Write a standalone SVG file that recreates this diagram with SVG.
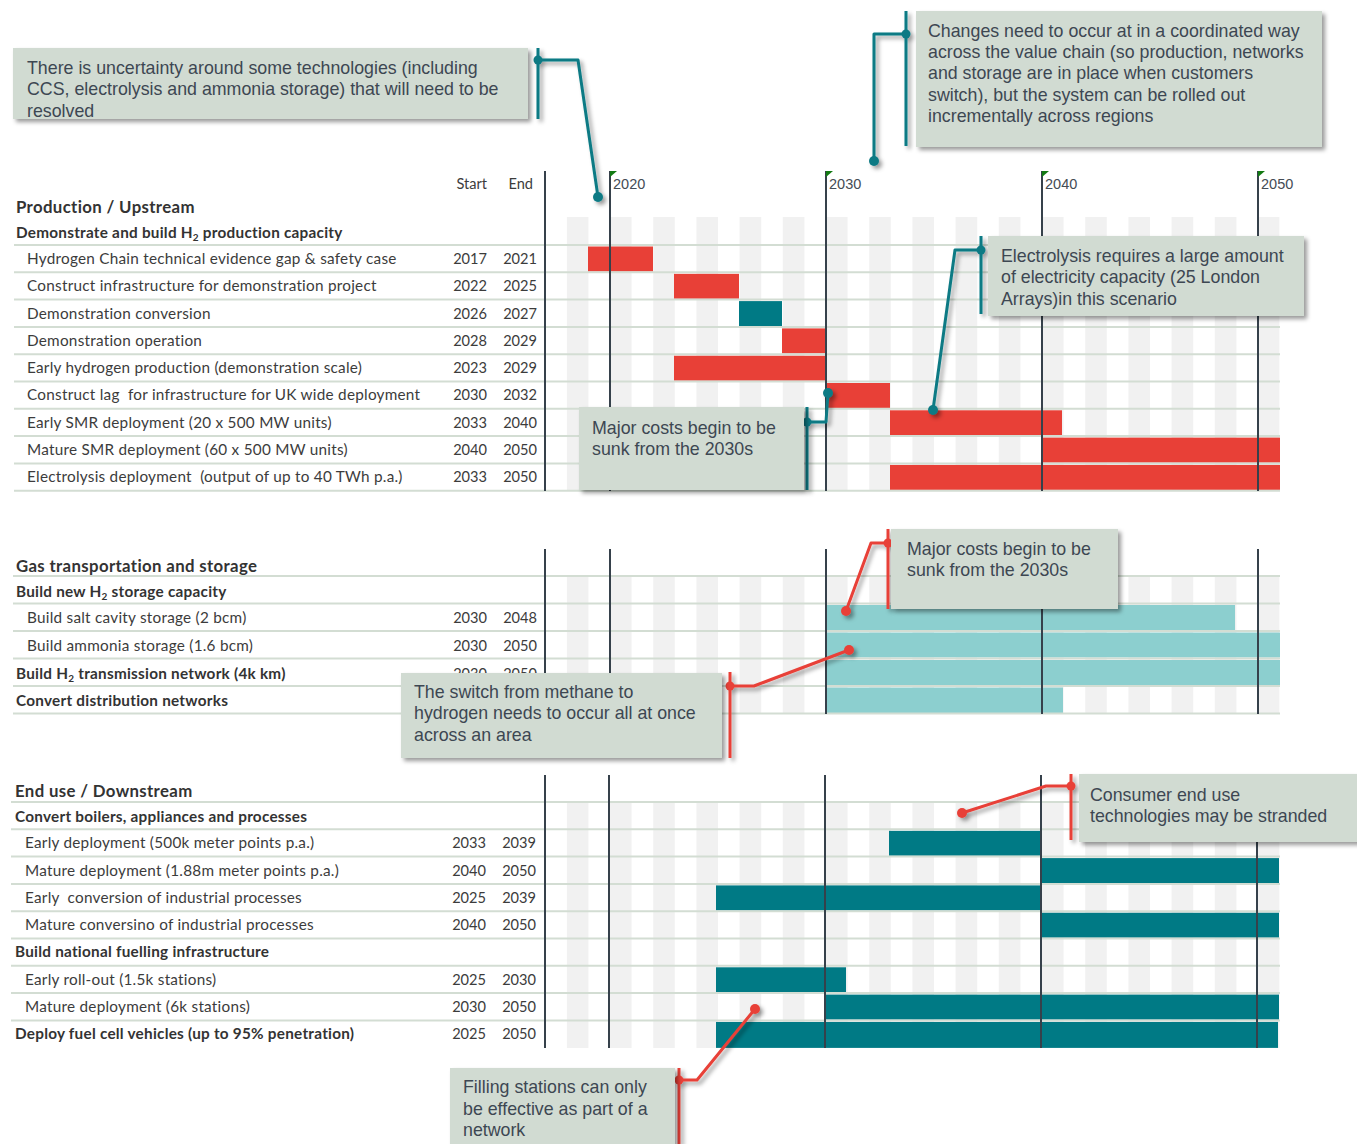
<svg xmlns="http://www.w3.org/2000/svg" width="1357" height="1144" viewBox="0 0 1357 1144">
  <defs>
    <style>
      .lbl { font-family: Lato, "Open Sans", sans-serif; font-size: 15.3px; letter-spacing: 0.25px; fill: #3c3c3c; }
      .hdr { font-family: Lato, "Open Sans", sans-serif; font-size: 15.3px; letter-spacing: 0.25px; font-weight: bold; fill: #333333; }
      .sec { font-family: Lato, "Open Sans", sans-serif; font-size: 16.8px; letter-spacing: 0.35px; font-weight: bold; fill: #333333; }
      .num { font-family: Lato, "Open Sans", sans-serif; font-size: 14.6px; fill: #3c3c3c; text-anchor: end; }
      .yr { font-family: "Liberation Sans", Arial, sans-serif; font-size: 14.5px; fill: #444c55; }
      .note { font-family: "Liberation Sans", Arial, sans-serif; font-size: 17.8px; fill: #3d4752; }
      .grid { stroke: #d3ddd3; stroke-width: 2; }
      .axis { stroke: #36414b; stroke-width: 2; }
      .box { fill: #d1dbd2; }
      .red { fill: #e84037; }
      .teal { fill: #007a85; }
      .aqua { fill: #8ccfcf; }
      .cT { stroke: #0b7a84; stroke-width: 3; fill: none; stroke-linejoin: round; }
      .cR { stroke: #e84037; stroke-width: 3; fill: none; stroke-linejoin: round; }
      .dT { fill: #0b7a84; }
      .dR { fill: #e84037; }
      .flag { fill: #137a13; }
    </style>
    <pattern id="stripes" patternUnits="userSpaceOnUse" x="566.8" y="0" width="43.2" height="10">
      <rect x="0" y="0" width="21.6" height="10" fill="#f1f1f1"/>
    </pattern>
    <filter id="shadow" x="-10%" y="-10%" width="130%" height="140%">
      <feDropShadow dx="3" dy="3" stdDeviation="2" flood-color="#000" flood-opacity="0.4"/>
    </filter>
  </defs>
  <rect width="1357" height="1144" fill="#ffffff"/>

  <!-- year stripes -->
  <g id="stripes-bg">
    <rect x="566.8" y="217" width="712.8" height="274" fill="url(#stripes)"/>
    <rect x="566.8" y="577" width="712.8" height="137" fill="url(#stripes)"/>
    <rect x="566.8" y="803" width="712.8" height="245" fill="url(#stripes)"/>
  </g>

  <!-- bars -->
  <g id="bars">
    <rect class="red" x="588" y="246.5" width="65" height="25"/>
    <rect class="red" x="674" y="273.8" width="65" height="25"/>
    <rect class="teal" x="739" y="301.1" width="43" height="25"/>
    <rect class="red" x="782" y="328.4" width="44" height="25"/>
    <rect class="red" x="674" y="355.7" width="152" height="25"/>
    <rect class="red" x="826" y="383" width="64" height="25"/>
    <rect class="red" x="890" y="410.3" width="172" height="25"/>
    <rect class="red" x="1042" y="437.6" width="238" height="25"/>
    <rect class="red" x="890" y="464.9" width="390" height="25"/>

    <rect class="aqua" x="826" y="605" width="409" height="25"/>
    <rect class="aqua" x="826" y="632.5" width="454" height="25"/>
    <rect class="aqua" x="826" y="660" width="454" height="25"/>
    <rect class="aqua" x="826" y="687.5" width="237" height="26"/>

    <rect class="teal" x="889" y="830.8" width="152" height="25"/>
    <rect class="teal" x="1041" y="858.1" width="238" height="25"/>
    <rect class="teal" x="716" y="885.4" width="325" height="25"/>
    <rect class="teal" x="1041" y="912.7" width="238" height="25"/>
    <rect class="teal" x="716" y="967.3" width="130" height="25"/>
    <rect class="teal" x="825" y="994.6" width="454" height="25"/>
    <rect class="teal" x="716" y="1021.9" width="562" height="26"/>
  </g>

  <!-- row separators -->
  <g id="grid">
    <line class="grid" x1="14" y1="245" x2="1280" y2="245"/>
    <line class="grid" x1="14" y1="272.3" x2="1280" y2="272.3"/>
    <line class="grid" x1="14" y1="299.6" x2="1280" y2="299.6"/>
    <line class="grid" x1="14" y1="326.9" x2="1280" y2="326.9"/>
    <line class="grid" x1="14" y1="354.2" x2="1280" y2="354.2"/>
    <line class="grid" x1="14" y1="381.5" x2="1280" y2="381.5"/>
    <line class="grid" x1="14" y1="408.8" x2="1280" y2="408.8"/>
    <line class="grid" x1="14" y1="436.1" x2="1280" y2="436.1"/>
    <line class="grid" x1="14" y1="463.4" x2="1280" y2="463.4"/>
    <line class="grid" x1="14" y1="490.7" x2="1280" y2="490.7"/>

    <line class="grid" x1="13" y1="576" x2="1280" y2="576"/>
    <line class="grid" x1="13" y1="603.5" x2="1280" y2="603.5"/>
    <line class="grid" x1="13" y1="631" x2="1280" y2="631"/>
    <line class="grid" x1="13" y1="658.5" x2="1280" y2="658.5"/>
    <line class="grid" x1="13" y1="686" x2="1280" y2="686"/>
    <line class="grid" x1="13" y1="713.5" x2="1280" y2="713.5"/>

    <line class="grid" x1="11" y1="802" x2="1280" y2="802"/>
    <line class="grid" x1="11" y1="829.3" x2="1280" y2="829.3"/>
    <line class="grid" x1="11" y1="856.6" x2="1280" y2="856.6"/>
    <line class="grid" x1="11" y1="883.9" x2="1280" y2="883.9"/>
    <line class="grid" x1="11" y1="911.2" x2="1280" y2="911.2"/>
    <line class="grid" x1="11" y1="938.5" x2="1280" y2="938.5"/>
    <line class="grid" x1="11" y1="965.8" x2="1280" y2="965.8"/>
    <line class="grid" x1="11" y1="993.1" x2="1280" y2="993.1"/>
    <line class="grid" x1="11" y1="1020.4" x2="1280" y2="1020.4"/>
  </g>

  <!-- decade axis lines -->
  <g id="axes">
    <line class="axis" x1="545" y1="171" x2="545" y2="491"/>
    <line class="axis" x1="610" y1="171" x2="610" y2="491"/>
    <line class="axis" x1="826" y1="171" x2="826" y2="491"/>
    <line class="axis" x1="1042" y1="171" x2="1042" y2="491"/>
    <line class="axis" x1="1258" y1="171" x2="1258" y2="491"/>

    <line class="axis" x1="545" y1="549" x2="545" y2="714"/>
    <line class="axis" x1="610" y1="549" x2="610" y2="714"/>
    <line class="axis" x1="826" y1="549" x2="826" y2="714"/>
    <line class="axis" x1="1042" y1="549" x2="1042" y2="714"/>
    <line class="axis" x1="1258" y1="549" x2="1258" y2="714"/>

    <line class="axis" x1="545" y1="775" x2="545" y2="1048"/>
    <line class="axis" x1="609" y1="775" x2="609" y2="1048"/>
    <line class="axis" x1="825" y1="775" x2="825" y2="1048"/>
    <line class="axis" x1="1041" y1="775" x2="1041" y2="1048"/>
    <line class="axis" x1="1257" y1="775" x2="1257" y2="1048"/>

    <polygon class="flag" points="610,171 617,171 610,177"/>
    <polygon class="flag" points="826,171 833,171 826,177"/>
    <polygon class="flag" points="1042,171 1049,171 1042,177"/>
    <polygon class="flag" points="1258,171 1265,171 1258,177"/>
    <text class="yr" x="613" y="189">2020</text>
    <text class="yr" x="829" y="189">2030</text>
    <text class="yr" x="1045" y="189">2040</text>
    <text class="yr" x="1261" y="189">2050</text>
  </g>

  <!-- row labels -->
  <g id="labels">
    <text class="num" x="487" y="189">Start</text>
    <text class="num" x="533" y="189">End</text>

    <text class="sec" x="16" y="213">Production / Upstream</text>
    <text class="hdr" x="16" y="238">Demonstrate and build H<tspan font-size="10" dy="3">2</tspan><tspan dy="-3"> production capacity</tspan></text>
    <text class="lbl" x="27" y="264">Hydrogen Chain technical evidence gap &amp; safety case</text>
    <text class="num" x="487" y="264">2017</text><text class="num" x="537" y="264">2021</text>
    <text class="lbl" x="27" y="291">Construct infrastructure for demonstration project</text>
    <text class="num" x="487" y="291">2022</text><text class="num" x="537" y="291">2025</text>
    <text class="lbl" x="27" y="319">Demonstration conversion</text>
    <text class="num" x="487" y="319">2026</text><text class="num" x="537" y="319">2027</text>
    <text class="lbl" x="27" y="346">Demonstration operation</text>
    <text class="num" x="487" y="346">2028</text><text class="num" x="537" y="346">2029</text>
    <text class="lbl" x="27" y="373">Early hydrogen production (demonstration scale)</text>
    <text class="num" x="487" y="373">2023</text><text class="num" x="537" y="373">2029</text>
    <text class="lbl" x="27" y="400" xml:space="preserve">Construct lag  for infrastructure for UK wide deployment</text>
    <text class="num" x="487" y="400">2030</text><text class="num" x="537" y="400">2032</text>
    <text class="lbl" x="27" y="428">Early SMR deployment (20 x 500 MW units)</text>
    <text class="num" x="487" y="428">2033</text><text class="num" x="537" y="428">2040</text>
    <text class="lbl" x="27" y="455">Mature SMR deployment (60 x 500 MW units)</text>
    <text class="num" x="487" y="455">2040</text><text class="num" x="537" y="455">2050</text>
    <text class="lbl" x="27" y="482" xml:space="preserve">Electrolysis deployment  (output of up to 40 TWh p.a.)</text>
    <text class="num" x="487" y="482">2033</text><text class="num" x="537" y="482">2050</text>

    <text class="sec" x="16" y="572">Gas transportation and storage</text>
    <text class="hdr" x="16" y="597">Build new H<tspan font-size="10" dy="3">2</tspan><tspan dy="-3"> storage capacity</tspan></text>
    <text class="lbl" x="27" y="623">Build salt cavity storage (2 bcm)</text>
    <text class="num" x="487" y="623">2030</text><text class="num" x="537" y="623">2048</text>
    <text class="lbl" x="27" y="651">Build ammonia storage (1.6 bcm)</text>
    <text class="num" x="487" y="651">2030</text><text class="num" x="537" y="651">2050</text>
    <text class="hdr" x="16" y="679">Build H<tspan font-size="10" dy="3">2</tspan><tspan dy="-3"> transmission network (4k km)</tspan></text>
    <text class="num" x="487" y="679">2030</text><text class="num" x="537" y="679">2050</text>
    <text class="hdr" x="16" y="706">Convert distribution networks</text>

    <text class="sec" x="15" y="797">End use / Downstream</text>
    <text class="hdr" x="15" y="822">Convert boilers, appliances and processes</text>
    <text class="lbl" x="25" y="848">Early deployment (500k meter points p.a.)</text>
    <text class="num" x="486" y="848">2033</text><text class="num" x="536" y="848">2039</text>
    <text class="lbl" x="25" y="876">Mature deployment (1.88m meter points p.a.)</text>
    <text class="num" x="486" y="876">2040</text><text class="num" x="536" y="876">2050</text>
    <text class="lbl" x="25" y="903" xml:space="preserve">Early  conversion of industrial processes</text>
    <text class="num" x="486" y="903">2025</text><text class="num" x="536" y="903">2039</text>
    <text class="lbl" x="25" y="930">Mature conversino of industrial processes</text>
    <text class="num" x="486" y="930">2040</text><text class="num" x="536" y="930">2050</text>
    <text class="hdr" x="15" y="957">Build national fuelling infrastructure</text>
    <text class="lbl" x="25" y="985">Early roll-out (1.5k stations)</text>
    <text class="num" x="486" y="985">2025</text><text class="num" x="536" y="985">2030</text>
    <text class="lbl" x="25" y="1012">Mature deployment (6k stations)</text>
    <text class="num" x="486" y="1012">2030</text><text class="num" x="536" y="1012">2050</text>
    <text class="hdr" x="15" y="1039">Deploy fuel cell vehicles (up to 95% penetration)</text>
    <text class="num" x="486" y="1039">2025</text><text class="num" x="536" y="1039">2050</text>
  </g>

  <!-- callout connectors -->
  <g id="connectors" filter="url(#shadow)">
    <line class="cT" x1="538" y1="48" x2="538" y2="119"/>
    <polyline class="cT" points="538,60 578,60 598,197"/>
    <circle class="dT" cx="538" cy="60" r="4.5"/><circle class="dT" cx="598" cy="197" r="5"/>

    <line class="cT" x1="906" y1="11" x2="906" y2="146"/>
    <polyline class="cT" points="906,34 874,34 874,161"/>
    <circle class="dT" cx="906" cy="34" r="4.5"/><circle class="dT" cx="874" cy="161" r="5"/>

    <line class="cT" x1="981" y1="236" x2="981" y2="314"/>
    <polyline class="cT" points="981,250 955,250 933,410"/>
    <circle class="dT" cx="981" cy="250" r="4.5"/><circle class="dT" cx="933" cy="410" r="5"/>

    <line class="cT" x1="807" y1="407" x2="807" y2="490"/>
    <polyline class="cT" points="807,422 826,422 828,393"/>
    <circle class="dT" cx="807" cy="422" r="4.5"/><circle class="dT" cx="828" cy="393" r="5"/>

    <line class="cR" x1="888" y1="529" x2="888" y2="609"/>
    <polyline class="cR" points="888,543 871,543 846,611"/>
    <circle class="dR" cx="888" cy="543" r="4.5"/><circle class="dR" cx="846" cy="611" r="5"/>

    <line class="cR" x1="730" y1="672" x2="730" y2="758"/>
    <polyline class="cR" points="730,686 754,686 849,650"/>
    <circle class="dR" cx="730" cy="686" r="4.5"/><circle class="dR" cx="849" cy="650" r="5"/>

    <line class="cR" x1="1071" y1="774" x2="1071" y2="840"/>
    <polyline class="cR" points="1071,786 1046,786 962,813"/>
    <circle class="dR" cx="1071" cy="786" r="4.5"/><circle class="dR" cx="962" cy="813" r="5"/>

    <line class="cR" x1="679" y1="1068" x2="679" y2="1144"/>
    <polyline class="cR" points="679,1080 697,1080 755,1009"/>
    <circle class="dR" cx="679" cy="1080" r="4.5"/><circle class="dR" cx="755" cy="1009" r="5"/>
  </g>

  <!-- callout notes -->
  <g id="note-uncertainty">
    <rect class="box" x="13" y="48" width="515" height="71" filter="url(#shadow)"/>
    <text class="note" x="27" y="74">There is uncertainty around some technologies (including</text>
    <text class="note" x="27" y="95">CCS, electrolysis and ammonia storage) that will need to be</text>
    <text class="note" x="27" y="117">resolved</text>
  </g>
  <g id="note-coordination">
    <rect class="box" x="916" y="11" width="406" height="136" filter="url(#shadow)"/>
    <text class="note" x="928" y="37">Changes need to occur at in a coordinated way</text>
    <text class="note" x="928" y="58">across the value chain (so production, networks</text>
    <text class="note" x="928" y="79">and storage are in place when customers</text>
    <text class="note" x="928" y="101">switch), but the system can be rolled out</text>
    <text class="note" x="928" y="122">incrementally across regions</text>
  </g>
  <g id="note-electrolysis">
    <rect class="box" x="988" y="236" width="316" height="80" filter="url(#shadow)"/>
    <text class="note" x="1001" y="262">Electrolysis requires a large amount</text>
    <text class="note" x="1001" y="283">of electricity capacity (25 London</text>
    <text class="note" x="1001" y="305">Arrays)in this scenario</text>
  </g>
  <g id="note-costs-production">
    <rect class="box" x="579" y="407" width="225" height="83" filter="url(#shadow)"/>
    <text class="note" x="592" y="434">Major costs begin to be</text>
    <text class="note" x="592" y="455">sunk from the 2030s</text>
  </g>
  <g id="note-costs-storage">
    <rect class="box" x="891" y="529" width="227" height="80" filter="url(#shadow)"/>
    <text class="note" x="907" y="555">Major costs begin to be</text>
    <text class="note" x="907" y="576">sunk from the 2030s</text>
  </g>
  <g id="note-switch">
    <rect class="box" x="401" y="673" width="321" height="85" filter="url(#shadow)"/>
    <text class="note" x="414" y="698">The switch from methane to</text>
    <text class="note" x="414" y="719">hydrogen needs to occur all at once</text>
    <text class="note" x="414" y="741">across an area</text>
  </g>
  <g id="note-stranded">
    <rect class="box" x="1079" y="774" width="280" height="68" filter="url(#shadow)"/>
    <text class="note" x="1090" y="801">Consumer end use</text>
    <text class="note" x="1090" y="822">technologies may be stranded</text>
  </g>
  <g id="note-filling">
    <rect class="box" x="450" y="1068" width="225" height="80" filter="url(#shadow)"/>
    <text class="note" x="463" y="1093">Filling stations can only</text>
    <text class="note" x="463" y="1115">be effective as part of a</text>
    <text class="note" x="463" y="1136">network</text>
  </g>
</svg>
